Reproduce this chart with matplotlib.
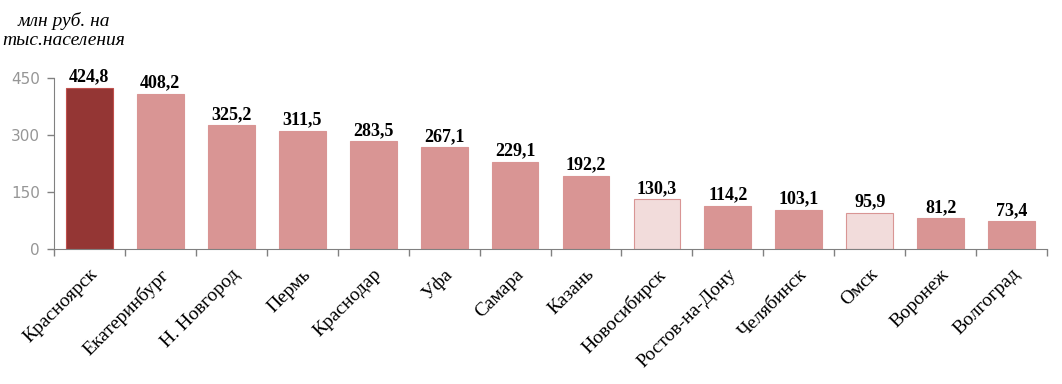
import numpy as np
import matplotlib.pyplot as plt
from matplotlib.ticker import FixedLocator

# Data
cities = ['Красноярск', 'Екатеринбург', 'Н. Новгород', 'Пермь', 'Краснодар', 'Уфа',
          'Самара', 'Казань', 'Новосибирск', 'Ростов-на-Дону', 'Челябинск', 'Омск',
          'Воронеж', 'Волгоград']
values = [424.8, 408.2, 325.2, 311.5, 283.5, 267.1, 229.1, 192.2, 130.3, 114.2,
          103.1, 95.9, 81.2, 73.4]
highlight = ['Красноярск']
pale = ['Новосибирск', 'Омск']
yticks = [0, 150, 300, 450]

dark = '#943634'
mid = '#D99594'
light = '#F2DCDB'

fig = plt.figure(figsize=(10.62, 3.84), dpi=100)
ax = fig.add_axes([0.0508, 0.3516, 0.9352, 0.4453])

x = np.arange(len(cities))
face = [dark if c in highlight else (light if c in pale else mid) for c in cities]
edge = ['#C0504D' if c in highlight else mid for c in cities]
ax.bar(x, values, width=0.66, color=face, edgecolor=edge, linewidth=0.8)

for xi, v in zip(x, values):
    ax.text(xi, v + 6, f'{v:.1f}'.replace('.', ','), ha='center', va='bottom',
            fontsize=13, fontweight='bold', family='Liberation Serif', clip_on=False)

ax.set_xlim(-0.5, len(cities) - 0.5)
ax.set_ylim(0, 450)
ax.set_yticks(yticks)
ax.set_yticklabels([str(t) for t in yticks], color='#969696', fontsize=11,
                   family='DejaVu Sans')

ax.set_xticks(x)
ax.set_xticklabels(cities, rotation=45, ha='right', rotation_mode='anchor',
                   fontsize=14, family='Liberation Serif')
ax.tick_params(axis='x', which='major', length=0, pad=12)
ax.xaxis.set_minor_locator(FixedLocator(np.arange(-0.5, len(cities), 1.0)))
ax.tick_params(axis='x', which='minor', length=5, color='#808080', width=1)
ax.tick_params(axis='y', length=5, color='#808080', width=1, pad=5)

for s in ['top', 'right']:
    ax.spines[s].set_visible(False)
for s in ['left', 'bottom']:
    ax.spines[s].set_color('#808080')

fig.text(0.06, 0.97, 'млн руб. на\nтыс.населения', ha='center', va='top',
         fontsize=14, style='italic', family='Liberation Serif', linespacing=1.2,
         multialignment='center')

fig.savefig('out.png', dpi=100)
